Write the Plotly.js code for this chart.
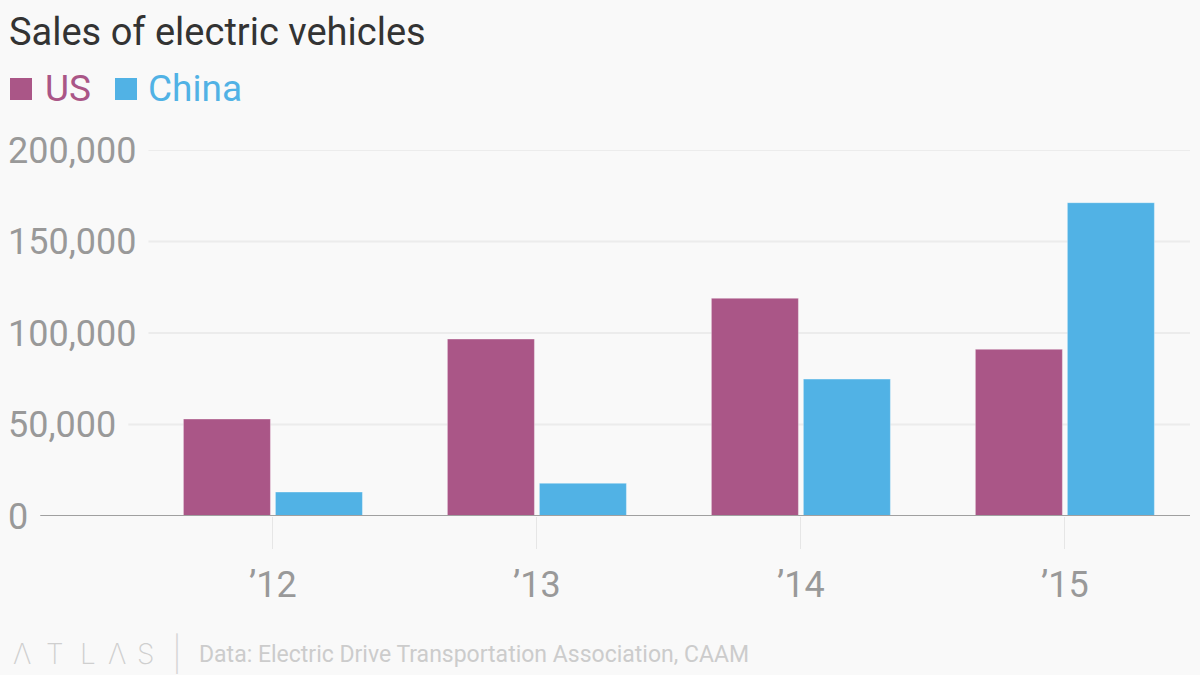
<!DOCTYPE html>
<html><head><meta charset="utf-8">
<script src="https://cdn.plot.ly/plotly-3.0.1.min.js"></script>
<style>html,body{margin:0;padding:0;background:#f9f9f9;}#chart{width:1200px;height:675px;}</style>
</head><body><div id="chart"></div>
<script>
// ---- data ----
const years = ["\u201912", "\u201913", "\u201914", "\u201915"];
const usSales = [53000, 96700, 119000, 91100];
const chinaSales = [13100, 17900, 74800, 171200];
const yTicks = [0, 50000, 100000, 150000, 200000];
const yTickLabels = ["0", "50,000", "100,000", "150,000", "200,000"];
const seriesNames = ["US", "China"];
const seriesColors = ["#aa5687", "#51b2e5"];
const titleText = "Sales of electric vehicles";
const sourceText = "Data: Electric Drive Transportation Association, CAAM";
const logoLetters = ["\u039B", "T", "L", "\u039B", "S"];

// ---- geometry helpers ----
const W = 1200, H = 675, L = 10, R = 10, T = 150, B = 159;
const pw = W - L - R, ph = H - T - B;
const px = x => (x - L) / pw;
const py = y => (H - B - y) / ph;
const FONT = "Roboto, 'Noto Sans', sans-serif";

const traces = [usSales, chinaSales].map((vals, i) => ({
  type: "bar",
  name: seriesNames[i],
  x: years,
  y: vals,
  marker: {color: seriesColors[i], line: {color: "rgba(255,255,255,0.35)", width: 1}},
  showlegend: false,
  hoverinfo: "skip"
}));

const shapes = [];
const annotations = [];
// legend keys
const legendX = [[10, 45], [115, 148]];
seriesNames.forEach((n, i) => {
  shapes.push({type: "rect", xref: "paper", yref: "paper",
    x0: px(legendX[i][0]), x1: px(legendX[i][0] + 22), y0: py(100), y1: py(78),
    fillcolor: seriesColors[i], line: {width: 0}});
  annotations.push({xref: "paper", yref: "paper", x: px(legendX[i][1] - 2), y: py(89),
    xanchor: "left", yanchor: "middle", showarrow: false, text: n,
    font: {family: FONT, size: 37, color: seriesColors[i]}});
});
// footer logo
const logoCenters = [21.5, 55, 87.5, 116.5, 145.5];
logoLetters.forEach((ch, i) => {
  annotations.push({xref: "paper", yref: "paper", x: px(logoCenters[i]), y: py(654), xanchor: "center", yanchor: "middle",
    showarrow: false, text: ch,
    font: {family: "Inter, Lato, sans-serif", size: 28, color: "#cfcfcf", weight: 200}});
});
annotations.push({xref: "paper", yref: "paper", x: px(177), y: py(653), xanchor: "center", yanchor: "middle",
  showarrow: false, text: "|", font: {family: "Inter, sans-serif", size: 34, color: "#d5d5d5", weight: 200}});
annotations.push({xref: "paper", yref: "paper", x: px(197), y: py(654), xanchor: "left", yanchor: "middle",
  showarrow: false, text: sourceText,
  font: {family: FONT, size: 23, color: "#cccccc"}});

const layout = {
  width: W, height: H,
  margin: {l: L, r: R, t: T, b: B, pad: 0},
  paper_bgcolor: "#f9f9f9", plot_bgcolor: "#f9f9f9",
  title: {text: titleText, x: 9 / W, xref: "container", xanchor: "left",
    y: 1 - 32 / H, yref: "container", yanchor: "middle",
    font: {family: FONT, size: 38, color: "#333333"}},
  barmode: "group", bargap: 0.303, bargroupgap: 0.054,
  xaxis: {type: "category", range: [-0.996, 3.474], showgrid: false, zeroline: false, showline: false,
    ticks: "outside", ticklen: 32, tickwidth: 1, tickcolor: "#e6e6e6", ticklabelstandoff: 5,
    tickfont: {family: FONT, size: 36, color: "#999999"}, fixedrange: true},
  yaxis: {range: [0, 200000], tickvals: yTicks, ticktext: yTickLabels,
    ticklabelposition: "inside", ticklabeloverflow: "allow", ticks: "", ticklabelstandoff: -5,
    showgrid: false, zeroline: false, showline: false,
    tickfont: {family: FONT, size: 36, color: "#999999"}, fixedrange: true},
  shapes: shapes,
  annotations: annotations
};

Plotly.newPlot("chart", traces, layout, {staticPlot: true}).then(gd => {
  const box = gd.getBoundingClientRect();
  const newShapes = shapes.slice();
  gd.querySelectorAll(".ytick text").forEach(t => {
    const idx = yTickLabels.indexOf(t.textContent);
    if (idx < 0) return;
    const right = t.getBoundingClientRect().right - box.left;
    const v = yTicks[idx];
    newShapes.push({type: "line", xref: "paper", yref: "y",
      x0: px(right + 12), x1: 1, y0: v, y1: v,
      line: {color: v === 0 ? "#a0a0a0" : "#ececec", width: 2},
      layer: v === 0 ? "above" : "below"});
  });
  return Plotly.relayout(gd, {shapes: newShapes});
});
</script>
</body></html>
